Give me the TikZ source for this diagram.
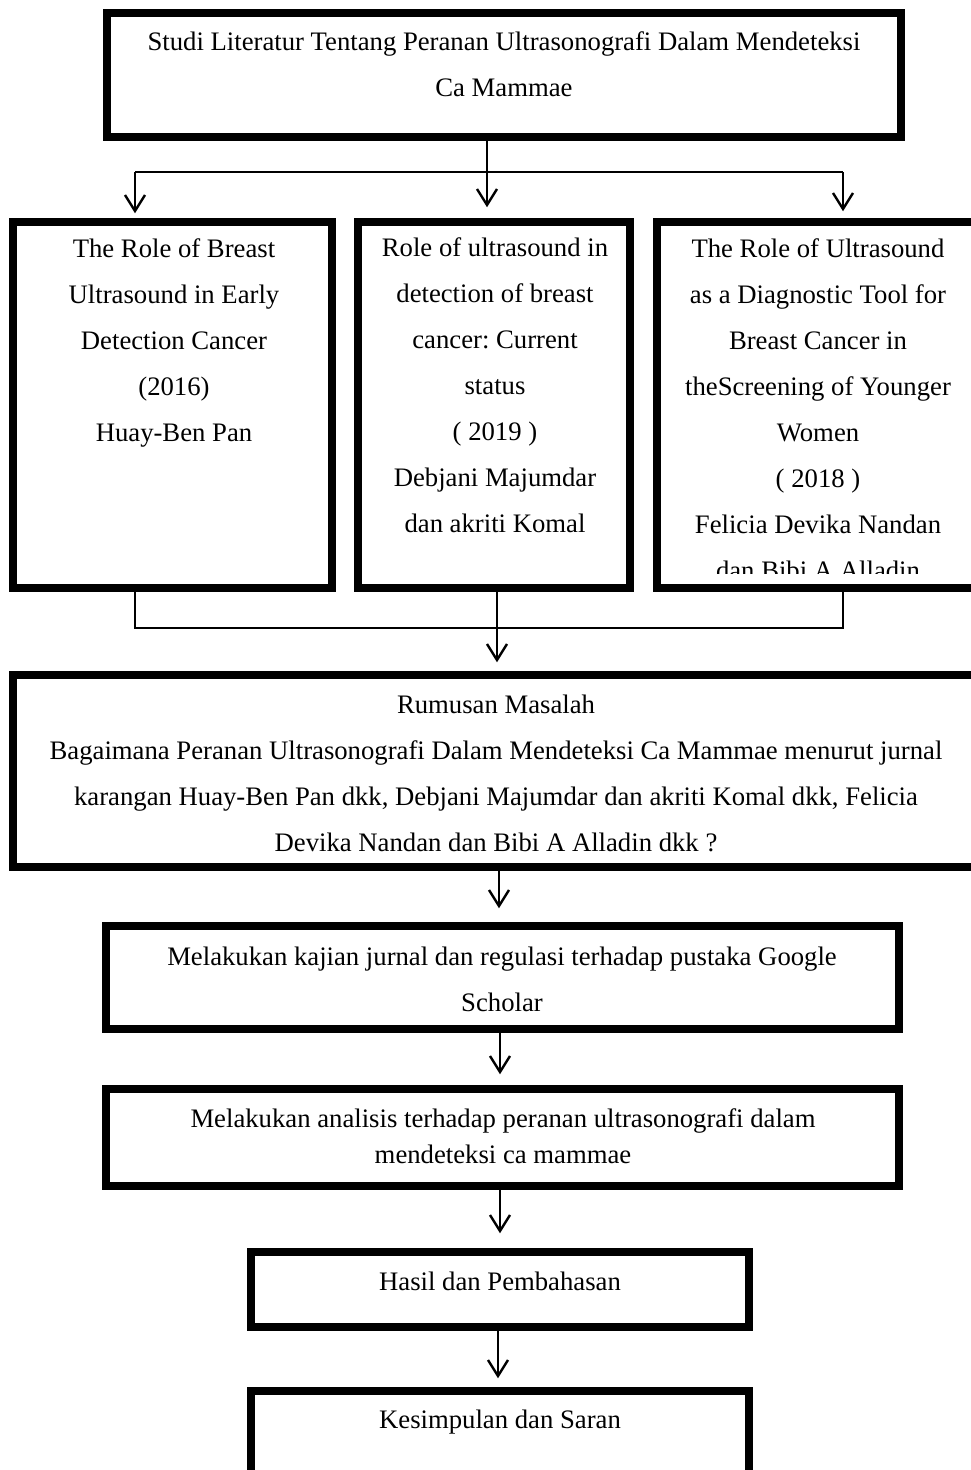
\documentclass[tikz,border=0pt]{standalone}
\usepackage{fontspec}
\setmainfont{Liberation Serif}
\usetikzlibrary{arrows.meta}
\frenchspacing
\begin{document}
\begin{tikzpicture}[x=1pt,y=-1pt,
  box/.style={draw=black, line width=7.5pt, rectangle, inner sep=0pt, fill=white},
  txt/.style={align=center, inner sep=0pt, font=\fontsize{26.7}{46}\selectfont},
  txtb/.style={align=center, inner sep=0pt, font=\fontsize{26.7}{36}\selectfont},
  conn/.style={draw=black, line width=2pt},
  arr/.style={conn, -{Straight Barb[length=16pt,width=20pt,line width=2.4pt]}}]
\clip (0,0) rectangle (971,1470);
\fill[white] (0,0) rectangle (971,1470);

% boxes
\node[box, minimum width=794pt, minimum height=124pt] (top) at (504,75) {};
\node[box, minimum width=319pt, minimum height=366pt] (b1) at (172.5,405) {};
\node[box, minimum width=272pt, minimum height=366pt] (b2) at (494,405) {};
\node[box, minimum width=330pt, minimum height=366pt] (b3) at (822,405) {};
\node[box, minimum width=977pt, minimum height=192pt] (rum) at (501.5,771) {};
\node[box, minimum width=793pt, minimum height=103pt] (kaj) at (502.5,977.5) {};
\node[box, minimum width=793pt, minimum height=97pt] (ana) at (502.5,1137.5) {};
\node[box, minimum width=498pt, minimum height=75pt] (has) at (500,1289.5) {};
\node[box, minimum width=498pt, minimum height=89pt] (kes) at (500,1435.5) {};

% texts
\node[txt] (topt) at (504,64.5) {Studi Literatur Tentang Peranan Ultrasonografi Dalam Mendeteksi\\Ca Mammae};
\node[txt] (b1t) at (174,342.5) {The Role of Breast\\Ultrasound in Early\\Detection Cancer\\(2016)\\Huay-Ben Pan};
\node[txt] (b2t) at (495,385.5) {Role of ultrasound in\\detection of breast\\cancer: Current\\status\\( 2019 )\\Debjani Majumdar\\dan akriti Komal};
\begin{scope}
\clip (657,222) rectangle (971,573);
\node[txt] (b3t) at (818,409.5) {The Role of Ultrasound\\as a Diagnostic Tool for\\Breast Cancer in\\theScreening of Younger\\Women\\( 2018 )\\Felicia Devika Nandan\\dan Bibi A  Alladin};
\end{scope}
\node[txt] (rumt) at (496,773) {Rumusan Masalah\\Bagaimana Peranan Ultrasonografi Dalam Mendeteksi Ca Mammae menurut jurnal\\karangan Huay-Ben Pan dkk, Debjani Majumdar dan akriti Komal dkk, Felicia\\Devika Nandan dan Bibi A Alladin dkk ?};
\node[txt] (kajt) at (502,979) {Melakukan kajian jurnal dan regulasi terhadap pustaka Google\\Scholar};
\node[txtb] (anat) at (503,1136) {Melakukan analisis terhadap peranan ultrasonografi dalam\\mendeteksi ca mammae};
\node[txt] (hast) at (500,1281) {Hasil dan Pembahasan};
\node[txt] (kest) at (500,1422) {Kesimpulan dan Saran};

% connectors
\coordinate (hl) at (135,172);
\coordinate (hm) at (487,172);
\coordinate (hr) at (843,172);
\draw[conn] (top.south -| hm) -- (hm);
\draw[conn] (hl) -- (hr);
\draw[arr, shorten >=5pt] (hl) -- (hl |- b1.north);
\draw[arr, shorten >=11pt] (hm) -- (hm |- b2.north);
\draw[arr, shorten >=7pt] (hr) -- (hr |- b3.north);

\coordinate (ll) at (135,628);
\coordinate (lr) at (843,628);
\coordinate (lm) at (497,628);
\draw[conn] (b1.south -| ll) -- (ll) -- (lr) -- (b3.south -| lr);
\draw[arr, shorten >=9pt] (b2.south -| lm) -- (rum.north -| lm);

\coordinate (a1) at (499,900);
\draw[arr, shorten >=14pt] (rum.south -| a1) -- (kaj.north -| a1);
\coordinate (a2) at (500,1060);
\draw[arr, shorten >=11pt] (kaj.south -| a2) -- (ana.north -| a2);
\coordinate (a3) at (500,1220);
\draw[arr, shorten >=15pt] (ana.south -| a3) -- (has.north -| a3);
\coordinate (a4) at (498,1360);
\draw[arr, shorten >=9pt] (has.south -| a4) -- (kes.north -| a4);
\end{tikzpicture}
\end{document}
